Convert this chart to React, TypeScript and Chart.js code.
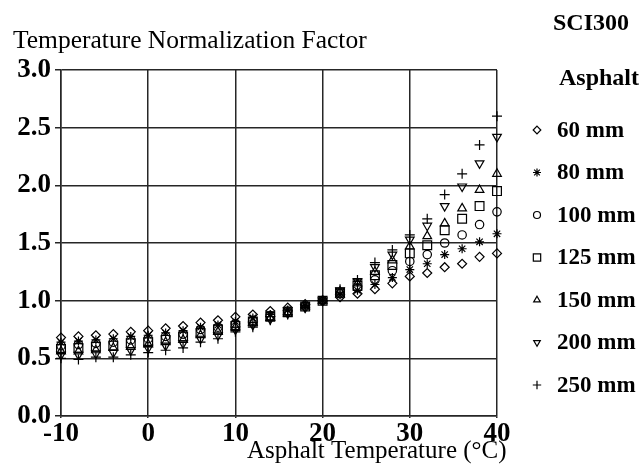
import React, { useEffect, useRef } from "react";
import { Chart, registerables } from "chart.js";

Chart.register(...registerables);

// Asphalt temperature (°C) at which each factor was computed
const temperatures = [-10, -8, -6, -4, -2, 0, 2, 4, 6, 8, 10, 12, 14, 16, 18, 20, 22, 24, 26, 28, 30, 32, 34, 36, 38, 40];

// Temperature normalization factors for SCI300, by asphalt thickness
const factor60 = [0.68, 0.69, 0.7, 0.71, 0.73, 0.74, 0.76, 0.78, 0.81, 0.83, 0.86, 0.88, 0.91, 0.94, 0.97, 1.0, 1.03, 1.06, 1.1, 1.15, 1.21, 1.24, 1.29, 1.32, 1.38, 1.41];
const factor80 = [0.64, 0.65, 0.66, 0.67, 0.69, 0.7, 0.72, 0.74, 0.77, 0.79, 0.82, 0.85, 0.88, 0.92, 0.96, 1.0, 1.05, 1.09, 1.14, 1.2, 1.27, 1.32, 1.4, 1.45, 1.51, 1.58];
const factor100 = [0.61, 0.62, 0.63, 0.64, 0.66, 0.67, 0.69, 0.71, 0.75, 0.77, 0.8, 0.83, 0.87, 0.91, 0.95, 1.0, 1.06, 1.11, 1.18, 1.26, 1.34, 1.4, 1.5, 1.57, 1.66, 1.77];
const factor125 = [0.58, 0.59, 0.6, 0.61, 0.63, 0.64, 0.66, 0.69, 0.72, 0.75, 0.78, 0.82, 0.86, 0.9, 0.95, 1.0, 1.07, 1.13, 1.22, 1.31, 1.41, 1.48, 1.61, 1.71, 1.82, 1.95];
const factor150 = [0.56, 0.56, 0.57, 0.59, 0.6, 0.62, 0.64, 0.66, 0.7, 0.73, 0.77, 0.81, 0.85, 0.89, 0.95, 1.0, 1.08, 1.15, 1.25, 1.35, 1.47, 1.56, 1.67, 1.8, 1.96, 2.1];
const factor200 = [0.53, 0.53, 0.54, 0.55, 0.57, 0.59, 0.61, 0.63, 0.67, 0.7, 0.75, 0.79, 0.84, 0.89, 0.94, 1.0, 1.09, 1.17, 1.29, 1.4, 1.53, 1.65, 1.82, 1.99, 2.19, 2.42];
const factor250 = [0.5, 0.49, 0.51, 0.51, 0.53, 0.55, 0.57, 0.59, 0.64, 0.67, 0.73, 0.77, 0.83, 0.88, 0.94, 1.0, 1.1, 1.18, 1.33, 1.44, 1.57, 1.71, 1.92, 2.1, 2.35, 2.6];

const seriesLabels = ["60 mm", "80 mm", "100 mm", "125 mm", "150 mm", "200 mm", "250 mm"];
const seriesValues = [factor60, factor80, factor100, factor125, factor150, factor200, factor250];

const xTicks = [-10, 0, 10, 20, 30, 40];
const yTicks = [0, 0.5, 1.0, 1.5, 2.0, 2.5, 3.0];

const chartTitle = "SCI300";
const yTitle = "Temperature Normalization Factor";
const xTitle = "Asphalt Temperature (°C)";
const legendTitle = "Asphalt";

const SERIF = "'Liberation Serif', 'Times New Roman', serif";

type Marker = { style: string; rotation: number; radius: number; legendRadius: number };
const markers: Marker[] = [
  { style: "rectRot", rotation: 0, radius: 4.5, legendRadius: 3.8 },
  { style: "star", rotation: 0, radius: 4.5, legendRadius: 4 },
  { style: "circle", rotation: 0, radius: 4.2, legendRadius: 3.5 },
  { style: "rect", rotation: 0, radius: 6.2, legendRadius: 5.2 },
  { style: "triangle", rotation: 0, radius: 5, legendRadius: 3.8 },
  { style: "triangle", rotation: 180, radius: 5, legendRadius: 3.8 },
  { style: "cross", rotation: 0, radius: 5, legendRadius: 4.2 },
];

// Draws one legend symbol in the same shapes the scatter markers use
function drawSymbol(ctx: CanvasRenderingContext2D, m: Marker, x: number, y: number) {
  const r = m.legendRadius;
  ctx.beginPath();
  switch (m.style) {
    case "rectRot":
      ctx.moveTo(x, y - r);
      ctx.lineTo(x + r, y);
      ctx.lineTo(x, y + r);
      ctx.lineTo(x - r, y);
      ctx.closePath();
      break;
    case "star": {
      for (let i = 0; i < 4; i++) {
        const a = (i * Math.PI) / 4;
        ctx.moveTo(x - Math.cos(a) * r, y - Math.sin(a) * r);
        ctx.lineTo(x + Math.cos(a) * r, y + Math.sin(a) * r);
      }
      break;
    }
    case "circle":
      ctx.arc(x, y, r, 0, Math.PI * 2);
      break;
    case "rect": {
      const s = Math.SQRT1_2 * r;
      ctx.rect(x - s, y - s, 2 * s, 2 * s);
      break;
    }
    case "triangle": {
      let rad = (m.rotation * Math.PI) / 180;
      ctx.moveTo(x + Math.sin(rad) * r, y - Math.cos(rad) * r);
      rad += (2 * Math.PI) / 3;
      ctx.lineTo(x + Math.sin(rad) * r, y - Math.cos(rad) * r);
      rad += (2 * Math.PI) / 3;
      ctx.lineTo(x + Math.sin(rad) * r, y - Math.cos(rad) * r);
      ctx.closePath();
      break;
    }
    case "cross":
      ctx.moveTo(x, y - r);
      ctx.lineTo(x, y + r);
      ctx.moveTo(x - r, y);
      ctx.lineTo(x + r, y);
      break;
  }
  ctx.stroke();
}

const annotationPlugin = {
  id: "figureText",
  afterDraw(chart: Chart) {
    const ctx = chart.ctx;
    ctx.save();
    ctx.fillStyle = "#000";
    ctx.strokeStyle = "#000";
    ctx.lineWidth = 1.2;
    ctx.textAlign = "left";
    ctx.textBaseline = "alphabetic";

    ctx.font = `25.5px ${SERIF}`;
    ctx.fillText(yTitle, 13, 48);
    ctx.font = `25px ${SERIF}`;
    ctx.fillText(xTitle, 247, 458);

    ctx.font = `bold 24px ${SERIF}`;
    ctx.fillText(chartTitle, 553, 30);
    ctx.fillText(legendTitle, 559, 85);

    ctx.font = `bold 23px ${SERIF}`;
    ctx.textBaseline = "middle";
    seriesLabels.forEach((label, i) => {
      const y = 130 + i * 42.5;
      drawSymbol(ctx, markers[i], 537, y);
      ctx.fillText(label, 557, y + 1);
    });
    ctx.restore();
  },
};

export default function App() {
  const canvasRef = useRef<HTMLCanvasElement | null>(null);

  useEffect(() => {
    if (!canvasRef.current) return;
    const gridColor = "#262626";
    const chart = new Chart(canvasRef.current, {
      type: "scatter",
      data: {
        datasets: seriesValues.map((vals, i) => ({
          label: seriesLabels[i],
          data: temperatures.map((t, j) => ({ x: t, y: vals[j] })),
          pointStyle: markers[i].style as any,
          rotation: markers[i].rotation,
          pointRadius: markers[i].radius,
          borderColor: "#000",
          backgroundColor: "rgba(0,0,0,0)",
          pointBorderWidth: 1.2,
          showLine: false,
          clip: false as any,
        })),
      },
      options: {
        animation: false,
        responsive: false,
        devicePixelRatio: 1,
        layout: { padding: { top: 70, right: 143, left: 0, bottom: 0 } },
        plugins: {
          legend: { display: false },
          tooltip: { enabled: false },
          title: { display: false },
        },
        scales: {
          x: {
            type: "linear",
            min: -10,
            max: 40,
            afterBuildTicks(scale: any) {
              scale.ticks = xTicks.map((v) => ({ value: v }));
            },
            afterFit(scale: any) {
              scale.height = 52;
            },
            grid: { color: gridColor, lineWidth: 1.5, tickLength: 2, drawTicks: true },
            border: { display: true, color: gridColor, width: 1.5 },
            ticks: {
              color: "#000",
              padding: 0,
              maxRotation: 0,
              font: { family: SERIF, size: 27, weight: "bold" },
              callback: (v: any) => String(v),
            },
          },
          y: {
            type: "linear",
            min: 0,
            max: 3,
            afterBuildTicks(scale: any) {
              scale.ticks = yTicks.map((v) => ({ value: v }));
            },
            afterFit(scale: any) {
              scale.width = 61;
            },
            grid: { color: gridColor, lineWidth: 1.5, tickLength: 6, drawTicks: true },
            border: { display: true, color: gridColor, width: 1.5 },
            ticks: {
              color: "#000",
              padding: 4,
              font: { family: SERIF, size: 27, weight: "bold" },
              callback: (v: any) => Number(v).toFixed(1),
            },
          },
        },
      },
      plugins: [annotationPlugin],
    });
    return () => chart.destroy();
  }, []);

  return (
    <div style={{ position: "fixed", left: 0, top: 0, width: 640, height: 468, background: "#fff" }}>
      <canvas ref={canvasRef} width={640} height={468} style={{ width: 640, height: 468, display: "block" }} />
    </div>
  );
}
